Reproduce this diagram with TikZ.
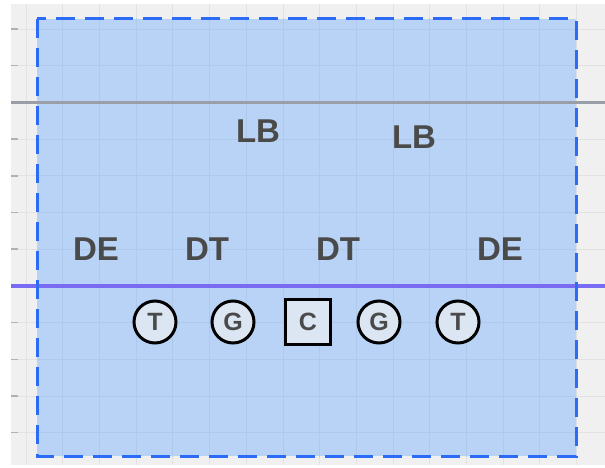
\documentclass[tikz,border=0pt]{standalone}
\usepackage{fontspec}
\setmainfont{Liberation Sans}
\definecolor{bgc}{HTML}{F0F0F0}
\definecolor{gridc}{HTML}{E2E2E2}
\definecolor{tickc}{HTML}{B0B0B0}
\definecolor{zonefill}{HTML}{B8D3F5}
\definecolor{zonegrid}{HTML}{AFC9EC}
\definecolor{zoneedge}{HTML}{2B6BF5}
\definecolor{grayline}{HTML}{9A9EA6}
\definecolor{purpleline}{HTML}{7A6CF2}
\definecolor{txtc}{HTML}{4A4A4A}
\definecolor{playerfill}{HTML}{DCE5F2}
\tikzset{
  poslabel/.style={font=\bfseries\fontsize{33}{33}\selectfont, text=txtc, inner sep=0pt},
  oline/.style={circle, draw=black, line width=3pt, fill=playerfill, minimum size=42pt, inner sep=0pt, font=\bfseries\fontsize{25}{25}\selectfont, text=txtc},
  osquare/.style={rectangle, draw=black, line width=3pt, fill=playerfill, minimum size=45pt, inner sep=0pt, font=\bfseries\fontsize{25}{25}\selectfont, text=txtc},
}
\begin{document}
\begin{tikzpicture}[x=1pt,y=-1pt]
\useasboundingbox (0,0) rectangle (605,468);
\fill[white] (0,0) rectangle (605,468);
\fill[bgc] (11,4) rectangle (605,465);
% grid
\foreach \k in {0,...,15} {\draw[gridc, line width=0.8pt] ({26+36.7*\k},4) -- ({26+36.7*\k},465);}
\foreach \k in {0,...,11} {\draw[gridc, line width=0.8pt] (11,{29+36.7*\k}) -- (605,{29+36.7*\k});}
\foreach \k in {0,...,11} {\draw[tickc, line width=1.5pt] (11,{29+36.7*\k}) -- (18,{29+36.7*\k});}
% zone
\fill[zonefill] (37,19) rectangle (576,456);
\begin{scope}
\clip (37,19) rectangle (576,456);
\foreach \k in {0,...,15} {\draw[zonegrid, line width=0.8pt] ({26+36.7*\k},4) -- ({26+36.7*\k},465);}
\foreach \k in {0,...,11} {\draw[zonegrid, line width=0.8pt] (11,{29+36.7*\k}) -- (605,{29+36.7*\k});}
\end{scope}
% lines
\coordinate (gl) at (11,102.4);
\coordinate (gr) at (605,102.4);
\draw[grayline, line width=2.5pt] (gl) -- (gr);
\coordinate (pl) at (11,286);
\coordinate (pr) at (605,286);
\draw[purpleline, line width=3.5pt] (pl) -- (pr);
\draw[zoneedge, line width=3pt, dash pattern=on 19pt off 10pt] (37,19) rectangle (576,456);
% defense
\node[poslabel] (lb1) at (258,131) {LB};
\node[poslabel] (lb2) at (414,137) {LB};
\node[poslabel] (de1) at (96,249) {DE};
\node[poslabel] (dt1) at (207,249) {DT};
\node[poslabel] (dt2) at (338,249) {DT};
\node[poslabel] (de2) at (500,249) {DE};
% offense
\node[oline] (t1) at (155,322) {T};
\node[oline] (g1) at (233,322) {G};
\node[osquare] (c) at (308,322) {C};
\node[oline] (g2) at (379,322) {G};
\node[oline] (t2) at (458,322) {T};
\end{tikzpicture}
\end{document}
